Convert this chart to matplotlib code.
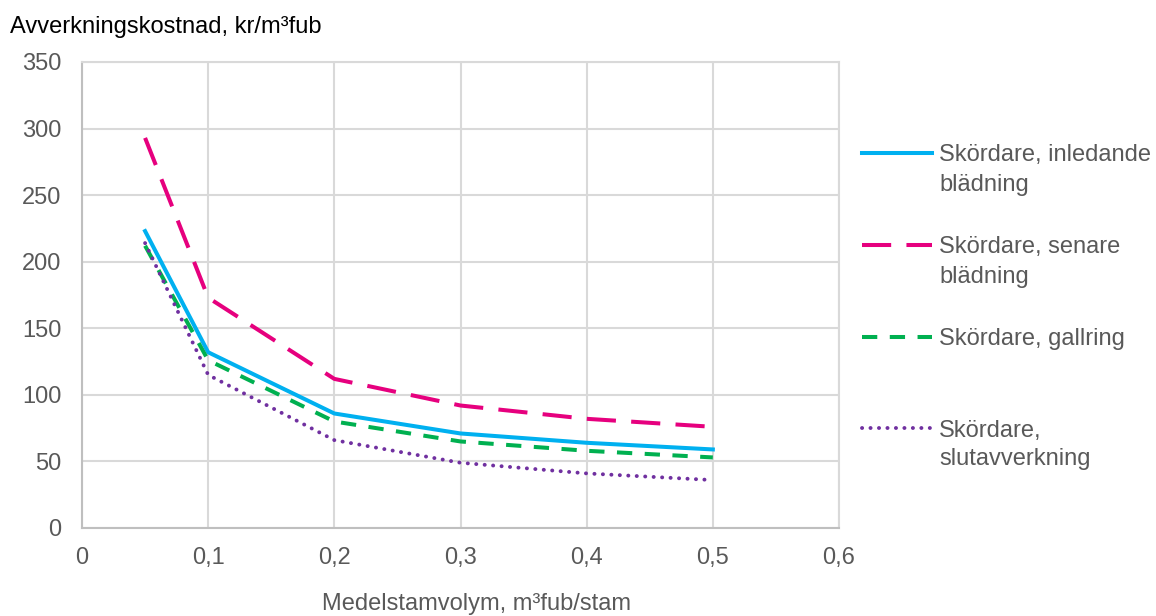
import matplotlib
matplotlib.use("Agg")
import matplotlib.pyplot as plt
from matplotlib.lines import Line2D

plt.rcParams['font.family'] = ['Liberation Sans', 'DejaVu Sans']
plt.rcParams['lines.scale_dashes'] = False

x = [0.05, 0.1, 0.2, 0.3, 0.4, 0.5]
inledande = [223, 132, 86, 71, 64, 59]
senare = [293, 173, 112, 92, 82, 76]
gallring = [212, 126, 80, 65, 58, 53]
slutavverkning = [214, 115, 66, 49, 41, 36]

labels = [["Skördare, inledande", "blädning"], ["Skördare, senare", "blädning"],
          ["Skördare, gallring"], ["Skördare,", "slutavverkning"]]
xticks = [0, 0.1, 0.2, 0.3, 0.4, 0.5, 0.6]
xticklabels = ["0", "0,1", "0,2", "0,3", "0,4", "0,5", "0,6"]
yticks = [0, 50, 100, 150, 200, 250, 300, 350]

W, H = 1156, 616
fig = plt.figure(figsize=(W / 100, H / 100), dpi=100)
ax = fig.add_axes([82 / W, 1 - 528 / H, (839 - 82) / W, (528 - 62) / H])

txt = '#595959'
grid = '#D9D9D9'
FS = 17

styles = [
    dict(color='#00B0F0', lw=2.9, ls='-'),
    dict(color='#E6007E', lw=2.9, ls=(0, (21, 11))),
    dict(color='#00B050', lw=2.9, ls=(0, (11, 9))),
    dict(color='#7030A0', lw=2.8, ls=(0, (0.1, 6.0)), dash_capstyle='round'),
]
series = [inledande, senare, gallring, slutavverkning]
for ys, st in zip(series, styles):
    ax.plot(x, ys, **st, solid_joinstyle='round', zorder=3)

ax.set_xlim(0, 0.6)
ax.set_ylim(0, 350)
ax.set_xticks(xticks)
ax.set_xticklabels(xticklabels)
ax.set_yticks(yticks)
ax.grid(True, color=grid, lw=1.5)
ax.set_axisbelow(True)
for k, s in ax.spines.items():
    s.set_color('#BFBFBF' if k in ('left', 'bottom') else grid)
    s.set_linewidth(1.5)
ax.tick_params(length=0, labelsize=FS, colors=txt)
ax.tick_params(axis='y', pad=15)
ax.tick_params(axis='x', pad=14)

fig.text(10 / W, 1 - 27 / H, "Avverkningskostnad, kr/m³fub", fontsize=FS,
         color='black', va='center', ha='left')
fig.text(477 / W, 1 - 604 / H, "Medelstamvolym, m³fub/stam", fontsize=FS,
         color=txt, va='center', ha='center')

# legend
leg_y = [153, 245, 337, 428]
for yy, lab, st in zip(leg_y, labels, styles):
    ln = Line2D([862 / W, 932 / W], [1 - yy / H, 1 - yy / H], transform=fig.transFigure, **st)
    fig.add_artist(ln)
    for i, part in enumerate(lab):
        fig.text(939 / W, 1 - (yy + 29 * i) / H, part, fontsize=FS, color=txt,
                 va='center_baseline', ha='left')

fig.savefig("out.png", dpi=100)
